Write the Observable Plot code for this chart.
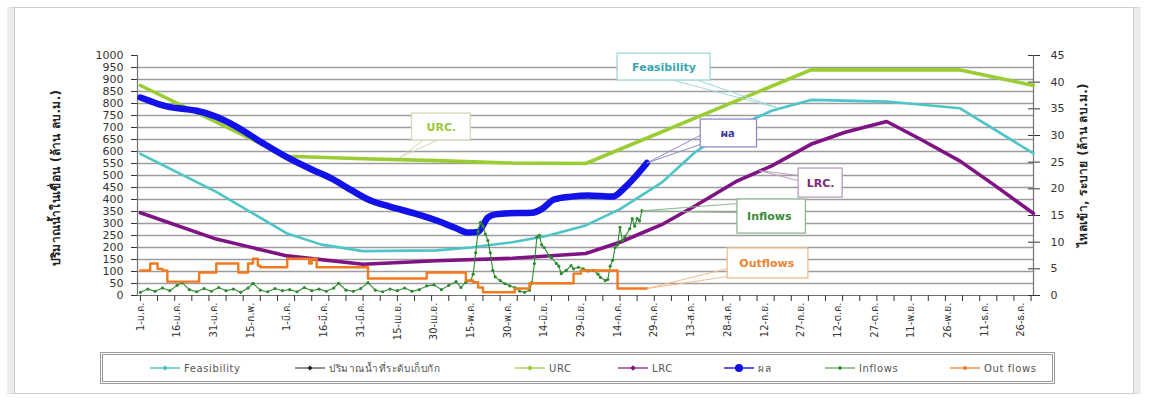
<!DOCTYPE html>
<html>
<head>
<meta charset="utf-8">
<script src="https://cdn.jsdelivr.net/npm/d3@7"></script>
<script src="https://cdn.jsdelivr.net/npm/@observablehq/plot@0.6"></script>
<style>
  html, body { margin: 0; padding: 0; background: #fff; }
  #frame { position: relative; width: 1150px; height: 401px; overflow: hidden; font-family: "DejaVu Sans", "Noto Sans", sans-serif; }
  #border { position: absolute; left: 7px; top: 7px; width: 1134px; height: 387px; border-top: 1px solid #cfcfcf; border-bottom: 1px solid #cfcfcf; border-left: 7px solid #ececec; border-right: 7px solid #ececec; box-sizing: border-box; box-shadow: inset 1px 0 0 #c9c9c9, inset -1px 0 0 #c9c9c9; }
  #chart { position: absolute; left: 0; top: 0; }
  .ytitle { position: absolute; white-space: nowrap; font-size: 12px; font-weight: bold; color: #222; transform: translate(-50%, -50%) rotate(-90deg); letter-spacing: 0.3px; }
  #legend { position: absolute; left: 100px; top: 352px; width: 955px; height: 32px; border: 3px double #9a9a9a; box-sizing: border-box; background: #fff; }
  .lg { position: absolute; top: 361px; height: 14px; display: flex; align-items: center; font-size: 10px; color: #555; letter-spacing: 0.6px; white-space: nowrap; }
  .lg svg { margin-right: 4px; }
</style>
</head>
<body>
<div id="frame">
  <div id="border"></div>
  <div id="chart"></div>
  <div class="ytitle" style="left:55px; top:178px;">ปริมาณน้ำในเขื่อน (ล้าน ลบ.ม.)</div>
  <div class="ytitle" style="left:1082px; top:165px;">ไหลเข้า, ระบาย (ล้าน ลบ.ม.)</div>
  <div id="legend"></div>
</div>
<script>
const YEAR = 2012;
const P = s => new Date(`${YEAR}-${s}T00:00:00Z`);

// ---------- tick labels ----------
const xLabels = ["1-ม.ค.","16-ม.ค.","31-ม.ค.","15-ก.พ.","1-มี.ค.","16-มี.ค.","31-มี.ค.","15-เม.ย.","30-เม.ย.","15-พ.ค.","30-พ.ค.","14-มิ.ย.","29-มิ.ย.","14-ก.ค.","29-ก.ค.","13-ส.ค.","28-ส.ค.","12-ก.ย.","27-ก.ย.","12-ต.ค.","27-ต.ค.","11-พ.ย.","26-พ.ย.","11-ธ.ค.","26-ธ.ค."];
const xLabelDates = ["01-01","01-16","01-31","02-15","03-01","03-16","03-31","04-15","04-30","05-15","05-30","06-14","06-29","07-14","07-29","08-13","08-28","09-12","09-27","10-12","10-27","11-11","11-26","12-11","12-26"];
const leftTicks = [0,50,100,150,200,250,300,350,400,450,500,550,600,650,700,750,800,850,900,950,1000];
const rightTicks = [0,5,10,15,20,25,30,35,40,45];
const gridValues = [50,100,150,200,250,300,350,400,450,500,550,600,650,700,750,800,850,900,950];

// ---------- series (left axis: million m3) ----------
const urc = [["01-01",875],["03-01",580],["04-01",570],["05-01",562],["06-01",552],["07-01",550],["10-01",940],["12-01",940],["12-31",875]];
const feasibility = [["01-01",590],["02-01",432],["03-01",258],["03-15",212],["04-01",185],["05-01",188],["05-15",200],["06-01",222],["06-15",248],["07-01",292],["07-15",360],["08-01",470],["08-15",600],["09-01",705],["09-15",770],["10-01",815],["11-01",808],["12-01",780],["12-31",592]];
const lrc = [["01-01",345],["02-01",235],["03-01",165],["04-01",130],["05-01",145],["06-01",155],["07-01",175],["07-15",222],["08-01",295],["08-15",375],["09-01",478],["09-15",540],["10-01",630],["10-15",680],["11-01",725],["11-15",650],["12-01",560],["12-15",460],["12-31",342]];
const actual = [["01-01",825],["01-05",810],["01-09",795],["01-13",785],["01-18",778],["01-24",770],["02-01",745],["02-09",705],["02-20",635],["03-02",570],["03-11",525],["03-19",488],["03-27",440],["04-04",396],["04-12",370],["04-22",342],["05-03",305],["05-09",280],["05-14",262],["05-18",265],["05-22",325],["05-25",338],["05-29",342],["06-09",345],["06-13",360],["06-18",400],["06-25",412],["07-02",417],["07-12",412],["07-17",450],["07-21",492],["07-26",552]];

// ---------- series (right axis: million m3 / day) ----------
const inflows = [["01-01",0.6],["01-04",1.2],["01-07",0.8],["01-10",1.4],["01-13",0.9],["01-16",1.9],["01-18",2.4],["01-21",1.1],["01-24",0.7],["01-27",1.3],["01-30",0.8],
["02-02",1.5],["02-05",0.9],["02-08",1.2],["02-11",0.6],["02-14",1.4],["02-16",2.3],["02-19",1.0],["02-22",0.7],["02-25",1.3],["02-28",0.9],
["03-02",1.1],["03-05",0.7],["03-08",1.5],["03-11",0.9],["03-14",1.2],["03-17",0.8],["03-20",1.4],["03-22",2.3],["03-25",1.0],["03-28",0.8],["03-31",1.3],
["04-03",2.4],["04-06",1.0],["04-09",0.7],["04-12",1.2],["04-15",0.9],["04-18",1.4],["04-21",0.8],["04-24",1.1],["04-27",1.8],["04-30",2.0],
["05-03",1.1],["05-06",1.9],["05-09",2.6],["05-11",1.5],["05-13",2.5],["05-15",2.8],["05-16",4.0],["05-17",8.0],["05-18",12.0],["05-19",13.7],["05-20",13.0],["05-21",11.5],["05-22",10.3],["05-23",8.0],["05-24",4.7],["05-25",3.5],["05-27",2.8],["05-29",2.2],["05-31",1.8],
["06-02",1.5],["06-04",0.8],["06-06",0.6],["06-08",1.0],["06-09",2.4],["06-10",6.0],["06-11",10.9],["06-12",11.3],["06-13",9.5],["06-14",9.0],["06-16",7.5],["06-17",7.1],["06-19",6.0],["06-20",5.5],["06-21",4.1],["06-23",4.7],["06-25",5.6],["06-26",5.0],["06-28",5.3],["06-30",5.0],
["07-02",4.6],["07-04",4.7],["07-06",4.0],["07-07",3.4],["07-09",2.8],["07-10",3.0],["07-11",5.5],["07-12",6.6],["07-13",9.0],["07-14",9.5],["07-15",12.8],["07-16",10.3],["07-17",11.0],["07-19",12.5],["07-20",14.4],["07-21",13.0],["07-22",14.4],["07-23",14.0],["07-24",15.9]];
const outflows = [["01-01",4.7],["01-05",6.0],["01-08",5.0],["01-10",4.7],["01-12",2.6],["01-25",4.3],["02-01",6.0],["02-10",4.3],["02-14",6.0],["02-16",6.9],["02-18",5.6],["02-19",5.3],["03-01",6.9],["03-10",6.0],["03-11",6.9],["03-13",5.3],["04-03",3.2],["04-27",4.3],["05-13",2.8],["05-16",2.5],["05-18",1.5],["05-20",0.6],["06-02",1.3],["06-08",2.3],["06-26",4.1],["06-29",4.7],["07-14",1.3],["07-26",1.3]];

// ---------- callouts (box corners and leader points in axis units) ----------
const callouts = [
  {label: "URC.", color: "#9cc83c", border: "#cfdcb4", x1: "04-21", x2: "05-15", y1: 646, y2: 758, tx: "05-03", ty: 702, lead: [["04-26",650],["05-02",650]], to: ["04-16",575]},
  {label: "Feasibility", color: "#3aa6ae", border: "#9fd8dc", x1: "07-14", x2: "08-21", y1: 896, y2: 1008, tx: "08-02", ty: 952, lead: [["08-06",896],["08-16",896]], to: ["09-18",780]},
  {label: "ผล", color: "#2a2aa0", border: "#8c8cc8", x1: "08-17", x2: "09-09", y1: 617, y2: 733, tx: "08-28", ty: 675, lead: [["08-17",668],["08-17",630]], to: ["07-26",552]},
  {label: "LRC.", color: "#7a2a7a", border: "#b89cbc", x1: "09-26", x2: "10-14", y1: 408, y2: 529, tx: "10-05", ty: 468, lead: [["09-26",500],["09-26",478]], to: ["09-10",520]},
  {label: "Inflows", color: "#3a8a3a", border: "#8cb88c", x1: "09-01", x2: "09-29", y1: 258, y2: 400, tx: "09-14", ty: 329, lead: [["09-01",383],["09-01",345]], to: ["07-24",353]},
  {label: "Outflows", color: "#ec8434", border: "#f2bc8c", x1: "08-28", x2: "09-30", y1: 71, y2: 196, tx: "09-13", ty: 133, lead: [["08-28",112],["08-28",79]], to: ["07-26",29]}
];

// ---------- build ----------
const RK = 1000 / 45;
const rows = arr => arr.map(([d, v]) => ({date: P(d), value: v}));
const rowsR = arr => arr.map(([d, v]) => ({date: P(d), value: v * RK}));
const labelMap = new Map(xLabelDates.map((d, i) => [+P(d), xLabels[i]]));
const weekTicks = d3.utcDays(P("01-01"), P("12-31")).filter((d, i) => i % 7 === 0);
const FONT = '"DejaVu Sans", "Noto Sans", "Noto Sans Thai", sans-serif';
const X0 = new Date(+P("01-01") - 1.2 * 864e5), X1 = P("12-31");

const leadLinks = callouts.flatMap(c => c.lead.map(([d, v]) => ({x1: P(d), y1: v, x2: P(c.to[0]), y2: c.to[1], color: c.border})));
const boxes = callouts.map(c => ({x1: P(c.x1), x2: P(c.x2), y1: c.y1, y2: c.y2, border: c.border}));
const boxText = callouts.map(c => ({x: P(c.tx), y: c.ty, label: c.label, color: c.color}));

const chart = Plot.plot({
  width: 1150,
  height: 350,
  marginLeft: 137, marginRight: 117, marginTop: 55, marginBottom: 55,
  style: {fontFamily: FONT, fontSize: "10.5px", color: "#333", background: "transparent", overflow: "visible"},
  x: {type: "utc", domain: [X0, X1]},
  y: {domain: [0, 1000]},
  marks: [
    Plot.ruleY(gridValues, {stroke: "#9d9d9d", strokeWidth: 1.3}),
    Plot.ruleY([0], {stroke: "#707070", strokeWidth: 1.2}),
    Plot.axisY(leftTicks, {anchor: "left", tickSize: 6, tickPadding: 8, label: null, tickFormat: v => String(v), fontSize: 11, letterSpacing: 1.4}),
    Plot.axisY(rightTicks.map(v => v * RK), {anchor: "right", tickSize: 6, tickPadding: 11, label: null, tickFormat: v => String(Math.round(v / RK)), fontSize: 11, letterSpacing: 1.4}),
    Plot.axisY(rightTicks.map(v => v * RK), {anchor: "right", tickSize: 6, dx: -6, label: null, tickFormat: () => ""}),
    Plot.axisX(weekTicks, {anchor: "bottom", tickSize: 6, tickFormat: () => "", label: null}),
    Plot.axisX(xLabelDates.map(P), {anchor: "bottom", tickSize: 0, tickPadding: 7, tickRotate: -90, tickFormat: d => labelMap.get(+d), label: null, fontSize: 10}),
    Plot.ruleX([X0], {stroke: "#707070", strokeWidth: 1.2}),
    Plot.ruleX([X1], {stroke: "#707070", strokeWidth: 1.2}),

    Plot.line(rows(feasibility), {x: "date", y: "value", stroke: "#4cc4c8", strokeWidth: 2.6}),
    Plot.line(rows(urc), {x: "date", y: "value", stroke: "#9acd32", strokeWidth: 3.6}),
    Plot.line(rows(lrc), {x: "date", y: "value", stroke: "#7f1384", strokeWidth: 3.6}),
    Plot.line(rows(actual), {x: "date", y: "value", stroke: "#1212e8", strokeWidth: 6.5, strokeLinejoin: "round", strokeLinecap: "round", curve: "monotone-x"}),
    Plot.line(rowsR(inflows), {x: "date", y: "value", stroke: "#2e8b2e", strokeWidth: 1.1}),
    Plot.dot(rowsR(inflows), {x: "date", y: "value", fill: "#2e8b2e", r: 1.6}),
    Plot.line(rowsR(outflows), {x: "date", y: "value", stroke: "#f2791e", strokeWidth: 2.4, curve: "step-after"}),

    Plot.link(leadLinks, {x1: "x1", y1: "y1", x2: "x2", y2: "y2", stroke: "color", strokeWidth: 1}),
    Plot.rect(boxes, {x1: "x1", x2: "x2", y1: "y1", y2: "y2", fill: "white", stroke: "border", strokeWidth: 1.3}),
    Plot.text(boxText, {x: "x", y: "y", text: "label", fill: "color", fontSize: 11, fontWeight: "bold", letterSpacing: 0.6})
  ]
});
document.getElementById("chart").appendChild(chart);

// ---------- legend ----------
const legendItems = [
  {name: "Feasibility", color: "#4cc4c8", x: 150, marker: "diamond", w: 1.4, r: 2},
  {name: "ปริมาณน้ำที่ระดับเก็บกัก", color: "#222", x: 295, marker: "diamond", w: 1, r: 1.8},
  {name: "URC", color: "#9acd32", x: 515, marker: "diamond", w: 1.2, r: 2},
  {name: "LRC", color: "#7f1384", x: 618, marker: "diamond", w: 1.2, r: 2},
  {name: "ผล", color: "#1212e8", x: 724, marker: "circle", w: 1.4, r: 4},
  {name: "Inflows", color: "#2e8b2e", x: 825, marker: "diamond", w: 1, r: 1.6},
  {name: "Out flows", color: "#f2791e", x: 950, marker: "diamond", w: 1.2, r: 1.8}
];
const frame = document.getElementById("frame");
legendItems.forEach(it => {
  const div = document.createElement("div");
  div.className = "lg";
  div.style.left = it.x + "px";
  const mk = it.marker === "circle"
    ? `<circle cx="15" cy="7" r="${it.r}" fill="${it.color}"/>`
    : `<rect x="${15 - it.r}" y="${7 - it.r}" width="${2 * it.r}" height="${2 * it.r}" transform="rotate(45 15 7)" fill="${it.color}"/>`;
  div.innerHTML = `<svg width="30" height="14"><line x1="0" y1="7" x2="30" y2="7" stroke="${it.color}" stroke-width="${it.w}"/>${mk}</svg><span>${it.name}</span>`;
  frame.appendChild(div);
});
</script>
</body>
</html>
